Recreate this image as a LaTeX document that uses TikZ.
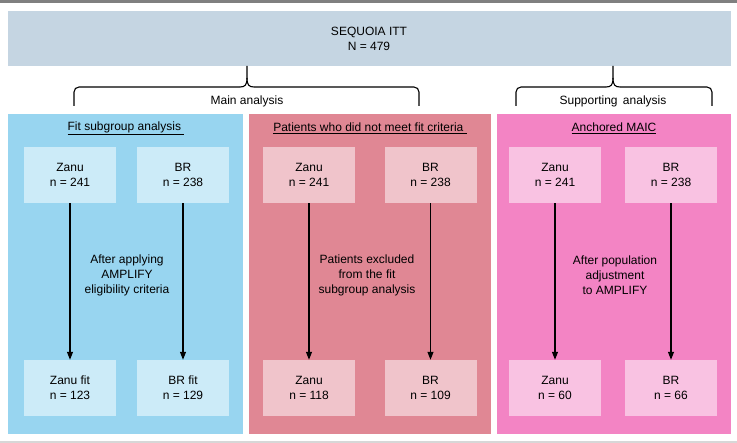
\documentclass[tikz,border=0pt]{standalone}
\usepackage{fontspec}
\setmainfont{Liberation Sans}
\usetikzlibrary{arrows.meta}
\definecolor{topfill}{RGB}{197,213,226}
\definecolor{bluepanel}{RGB}{152,213,240}
\definecolor{bluebox}{RGB}{204,235,248}
\definecolor{redpanel}{RGB}{224,135,148}
\definecolor{redbox}{RGB}{240,196,203}
\definecolor{pinkpanel}{RGB}{243,132,196}
\definecolor{pinkbox}{RGB}{249,194,226}
\definecolor{topline}{RGB}{128,128,128}
\definecolor{botline}{RGB}{215,215,215}
\begin{document}
\begin{tikzpicture}[x=1pt,y=-1pt,
  every node/.style={font=\fontsize{12}{15}\selectfont, text=black, inner sep=0pt, align=center},
  panel/.style={draw=none, minimum width=235pt, minimum height=320pt, anchor=north west},
  armbox/.style={minimum width=92pt, minimum height=56pt},
  flow/.style={-{Triangle[length=8pt,width=6pt]}, line width=1.2pt},
  bracket/.style={line width=1.1pt, rounded corners=5pt},
  tip/.style={line width=1.1pt},
  ttl/.style={anchor=center}
]
\useasboundingbox (0,0) rectangle (737,443);
\fill[topline] (0,0) rectangle (737,3);
\fill[botline] (0,441.5) rectangle (737,443);

% top box
\node[fill=topfill, minimum width=723pt, minimum height=55pt, anchor=north west] (top) at (8,11) {};
\node (toptxt) at (369,38.5) {SEQUOIA ITT\\N = 479};

% panels
\node[panel, fill=bluepanel, minimum width=235pt] (p1) at (8,113.5) {};
\node[panel, fill=redpanel, minimum width=242pt] (p2) at (249,113.5) {};
\node[panel, fill=pinkpanel, minimum width=234pt] (p3) at (497,113.5) {};

% brackets
\coordinate (b1l) at (74,106);
\coordinate (b1r) at (419,106);
\coordinate (b1t) at (247,66);
\coordinate (b2l) at (516,106);
\coordinate (b2r) at (712,106);
\coordinate (b2t) at (613,66);
\draw[bracket] (b1l) |- (240,87);
\draw[tip] (240,87) .. controls (245,87) and (247,85) .. (247,78) -- (b1t);
\draw[tip] (254,87) .. controls (249,87) and (247,85) .. (247,78);
\draw[bracket] (b1r) |- (254,87);
\draw[bracket] (b2l) |- (606,87);
\draw[tip] (606,87) .. controls (611,87) and (613,85) .. (613,78) -- (b2t);
\draw[tip] (620,87) .. controls (615,87) and (613,85) .. (613,78);
\draw[bracket] (b2r) |- (620,87);
\node (main) at (247,101) {Main analysis};
\node (supp) at (613,101) {Supporting\, analysis};

% titles
\node[ttl] (t1) at (126,128) {\underline{Fit subgroup analysis\ }};
\node[ttl] (t2) at (370,128) {\underline{Patients who did not meet fit criteria\ }};
\node[ttl] (t3) at (614,128) {\underline{Anchored MAIC}};

% panel 1
\node[armbox, fill=bluebox] (z1) at (70,175) {Zanu\\n = 241};
\node[armbox, fill=bluebox] (r1) at (183,175) {BR\\n = 238};
\node[armbox, fill=bluebox] (z1f) at (70,388) {Zanu fit\\n = 123};
\node[armbox, fill=bluebox] (r1f) at (183,388) {BR fit\\n = 129};
\draw[flow] (z1) -- (z1f);
\draw[flow] (r1) -- (r1f);
\node (m1) at (127,275) {After applying\\AMPLIFY\\eligibility criteria};

% panel 2
\node[armbox, fill=redbox] (z2) at (309,175) {Zanu\\n = 241};
\node[armbox, fill=redbox] (r2) at (430.5,175) {BR\\n = 238};
\node[armbox, fill=redbox] (z2f) at (309,388) {Zanu\\n = 118};
\node[armbox, fill=redbox] (r2f) at (430.5,388) {BR\\n = 109};
\draw[flow] (z2) -- (z2f);
\draw[flow] (r2) -- (r2f);
\node (m2) at (367,275) {Patients excluded\\from the fit\\subgroup analysis};

% panel 3
\node[armbox, fill=pinkbox] (z3) at (555,175) {Zanu\\n = 241};
\node[armbox, fill=pinkbox] (r3) at (671,175) {BR\\n = 238};
\node[armbox, fill=pinkbox] (z3f) at (555,388) {Zanu\\n = 60};
\node[armbox, fill=pinkbox] (r3f) at (671,388) {BR\\n = 66};
\draw[flow] (z3) -- (z3f);
\draw[flow] (r3) -- (r3f);
\node (m3) at (615,275) {After population\\adjustment\\to AMPLIFY};
\end{tikzpicture}
\end{document}
